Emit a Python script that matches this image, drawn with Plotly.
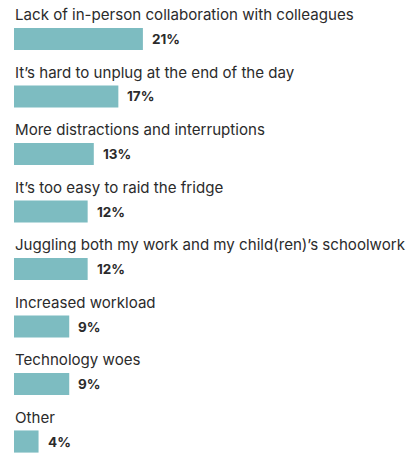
import plotly.graph_objects as go

categories = [
    "Lack of in-person collaboration with colleagues",
    "It\u2019s hard to unplug at the end of the day",
    "More distractions and interruptions",
    "It\u2019s too easy to raid the fridge",
    "Juggling both my work and my child(ren)\u2019s schoolwork",
    "Increased workload",
    "Technology woes",
    "Other",
]
values = [21, 17, 13, 12, 12, 9, 9, 4]
value_labels = [f"{v}%" for v in values]

pos = list(range(len(categories)))

fig = go.Figure()
fig.add_trace(go.Bar(
    x=values,
    y=pos,
    orientation="h",
    width=0.385,
    marker=dict(color="#7dbcc1", line=dict(width=0)),
    hoverinfo="skip",
))

for p, c in zip(pos, categories):
    fig.add_annotation(
        x=0, y=p - 0.42, xref="x", yref="y", xshift=-1,
        text=c, showarrow=False, xanchor="left", yanchor="middle",
        font=dict(family="Inter", size=15.1, color="#2b2b2b"),
    )

for p, v, t in zip(pos, values, value_labels):
    fig.add_annotation(
        x=v, y=p, xref="x", yref="y", xshift=7,
        text=t, showarrow=False, xanchor="left", yanchor="middle",
        font=dict(family="Inter", size=13.5, color="#2b2b2b", weight="bold"),
    )

fig.update_layout(
    width=413, height=454,
    margin=dict(l=0, r=0, t=0, b=0),
    paper_bgcolor="white", plot_bgcolor="white",
    showlegend=False,
    xaxis=dict(range=[-2.28, 65], visible=False),
    yaxis=dict(range=[7.217, -0.678], visible=False),
)

fig.write_html("out.html")
